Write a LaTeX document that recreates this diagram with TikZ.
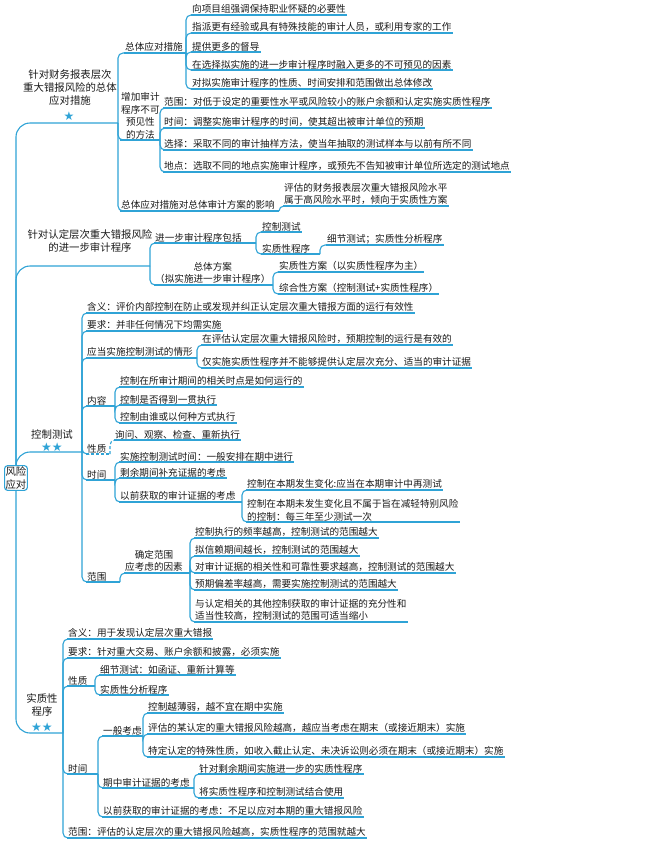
\documentclass[tikz,border=0pt]{standalone}
\usepackage{fontspec}
\setmainfont{Noto Sans CJK SC}
\newfontfamily\symfont{DejaVu Sans}
\definecolor{mapblue}{HTML}{2FA3D6}
\definecolor{inkgray}{HTML}{1A1A1A}
\newcommand\lf[4]{\node[leaf] (#1) at (#2,#3) {#4};
  \draw[ul] (#1.south west) -- (#1.south east);}

\begin{document}
\begin{tikzpicture}[x=1pt,y=-1pt,
    leaf/.style={anchor=south west,inner sep=1pt,align=left,text=inkgray,
      font=\fontsize{9.6}{12.4}\selectfont},
    head/.style={align=center,inner sep=1pt,text=inkgray,
      font=\fontsize{10.4}{13}\selectfont},
    ul/.style={draw=mapblue,line width=1.1pt},
    br/.style={draw=mapblue,line width=1.1pt,rounded corners=5pt},
    trunk/.style={draw=mapblue,line width=1.1pt,rounded corners=14pt},
    stars/.style={text=mapblue,inner sep=0pt,font=\symfont\fontsize{12}{12}\selectfont},
]
\useasboundingbox[fill=white] (0,0) rectangle (650,844);

% root
\node[draw=mapblue,line width=1.1pt,rounded corners=3pt,inner sep=1.5pt,
  head] (root) at (16,478) {风险\\应对};
\coordinate (fA) at (118,123);
\coordinate (fB) at (150,266);
\coordinate (fC) at (82,452);
\coordinate (fD) at (63,733);
\draw[trunk] (root.north) |- (fA);
\draw[trunk] (root.north) |- (fB);
\draw[trunk] (root.north) |- (fC);
\draw[trunk] (root.south) |- (fD);

%%%
% financial statement level
\node[head] (fin) at (70,88) {针对财务报表层次\\重大错报风险的总体\\应对措施};
\node[stars] (finstar) at (69,116) {★};
\node[leaf] (zt) at (124,53) {总体应对措施};
\coordinate (fZt) at (186,53);
\draw[br] (fA) |- (zt.south west);
\draw[ul] (zt.south west) -- (fZt);
\lf{zt1}{191}{15}{向项目组强调保持职业怀疑的必要性}
\lf{zt2}{191}{33}{指派更有经验或具有特殊技能的审计人员，或利用专家的工作}
\lf{zt3}{191}{52}{提供更多的督导}
\lf{zt4}{191}{70}{在选择拟实施的进一步审计程序时融入更多的不可预见的因素}
\lf{zt5}{191}{89}{对拟实施审计程序的性质、时间安排和范围做出总体修改}
\foreach \c in {zt1,zt2,zt3,zt4,zt5} \draw[br] (fZt) |- (\c.south west);

\node[leaf,align=center] (zj) at (120,140) {增加审计\\程序不可\\预见性\\的方法};
\coordinate (fZj) at (160,140);
\draw[br] (fA) |- (zj.south west);
\draw[ul] (zj.south west) -- (fZj);
\lf{zj1}{163}{108}{范围：对低于设定的重要性水平或风险较小的账户余额和认定实施实质性程序}
\lf{zj2}{163}{128}{时间：调整实施审计程序的时间，使其超出被审计单位的预期}
\lf{zj3}{163}{150}{选择：采取不同的审计抽样方法，使当年抽取的测试样本与以前有所不同}
\lf{zj4}{163}{172}{地点：选取不同的地点实施审计程序，或预先不告知被审计单位所选定的测试地点}
\foreach \c in {zj1,zj2,zj3,zj4} \draw[br] (fZj) |- (\c.south west);

\node[leaf] (yx) at (120,211) {总体应对措施对总体审计方案的影响};
\coordinate (fYx) at (279,211);
\draw[br] (fA) |- (yx.south west);
\draw[ul] (yx.south west) -- (fYx);
\lf{yx1}{283}{206}{评估的财务报表层次重大错报风险水平\\属于高风险水平时，倾向于实质性方案}
\draw[br] (fYx) |- (yx1.south west);

%%%
% assertion level
\node[head] (ass) at (90,241) {针对认定层次重大错报风险\\的进一步审计程序};
\node[leaf] (jb) at (154,243) {进一步审计程序包括};
\coordinate (fJb) at (256,243);
\draw[br] (fB) |- (jb.south west);
\draw[ul] (jb.south west) -- (fJb);
\lf{jb1}{261}{232}{控制测试}
\node[leaf] (jb2) at (261,254) {实质性程序};
\coordinate (fJb2) at (320,254);
\draw[ul] (jb2.south west) -- (fJb2);
\foreach \c in {jb1,jb2} \draw[br] (fJb) |- (\c.south west);
\lf{jb3}{326}{245}{细节测试；实质性分析程序}
\draw[br] (fJb2) |- (jb3.south west);

\node[leaf,align=center] (fa) at (154,285) {总体方案\\（拟实施进一步审计程序）};
\coordinate (fFa) at (273,285);
\draw[br] (fB) |- (fa.south west);
\draw[ul] (fa.south west) -- (fFa);
\lf{fa1}{278}{272}{实质性方案（以实质性程序为主）}
\lf{fa2}{278}{294}{综合性方案（控制测试+实质性程序）}
\foreach \c in {fa1,fa2} \draw[br] (fFa) |- (\c.south west);

%%%
% tests of controls
\node[head] (ctl) at (52,435) {控制测试};
\node[stars] (ctlstar) at (52,447) {★★};
\lf{c1}{86}{313}{含义：评价内部控制在防止或发现并纠正认定层次重大错报方面的运行有效性}
\lf{c2}{86}{331}{要求：并非任何情况下均需实施}
\node[leaf] (c3) at (86,358) {应当实施控制测试的情形};
\node[leaf] (c4) at (86,406) {内容};
\node[leaf] (c5) at (86,454) {性质};
\node[leaf] (c6) at (86,480) {时间};
\node[leaf] (c7) at (86,582) {范围};
\foreach \c in {c1,c2,c3,c4,c5,c6,c7} \draw[br] (fC) |- (\c.south west);
\coordinate (fC3) at (197,358);
\coordinate (fC4) at (115,406);
\coordinate (fC5) at (110,454);
\coordinate (fC6) at (115,480);
\coordinate (fC7) at (120,582);
\draw[ul] (c3.south west) -- (fC3);
\draw[ul] (c4.south west) -- (fC4);
\draw[ul,densely dashed] (c5.south west) -- (fC5);
\draw[ul] (c6.south west) -- (fC6);
\draw[ul] (c7.south west) -- (fC7);
\lf{c31}{201}{345}{在评估认定层次重大错报风险时，预期控制的运行是有效的}
\lf{c32}{201}{368}{仅实施实质性程序并不能够提供认定层次充分、适当的审计证据}
\foreach \c in {c31,c32} \draw[br] (fC3) |- (\c.south west);
\lf{c41}{119}{387}{控制在所审计期间的相关时点是如何运行的}
\lf{c42}{119}{405}{控制是否得到一贯执行}
\lf{c43}{119}{423}{控制由谁或以何种方式执行}
\foreach \c in {c41,c42,c43} \draw[br] (fC4) |- (\c.south west);
\lf{c51}{114}{440}{询问、观察、检查、重新执行}
\draw[br,densely dashed] (fC5) |- (c51.south west);
\lf{c61}{119}{462}{实施控制测试时间：一般安排在期中进行}
\lf{c62}{119}{478}{剩余期间补充证据的考虑}
\node[leaf] (c63) at (119,502) {以前获取的审计证据的考虑};
\coordinate (fC63) at (242,502);
\draw[ul] (c63.south west) -- (fC63);
\foreach \c in {c61,c62,c63} \draw[br] (fC6) |- (\c.south west);
\lf{c631}{246}{490}{控制在本期发生变化:应当在本期审计中再测试}
\lf{c632}{246}{522}{控制在本期未发生变化且不属于旨在减轻特别风险\\的控制：每三年至少测试一次}
\foreach \c in {c631,c632} \draw[br] (fC63) |- (\c.south west);
\node[leaf,align=center] (c71) at (124,573) {确定范围\\应考虑的因素};
\coordinate (fC71) at (190,573);
\draw[br] (fC7) |- (c71.south west);
\draw[ul] (c71.south west) -- (fC71);
\lf{r1}{194}{538}{控制执行的频率越高，控制测试的范围越大}
\lf{r2}{194}{556}{拟信赖期间越长，控制测试的范围越大}
\lf{r3}{194}{573}{对审计证据的相关性和可靠性要求越高，控制测试的范围越大}
\lf{r4}{194}{590}{预期偏差率越高，需要实施控制测试的范围越大}
\lf{r5}{194}{622}{与认定相关的其他控制获取的审计证据的充分性和\\适当性较高，控制测试的范围可适当缩小}
\foreach \c in {r1,r2,r3,r4,r5} \draw[br] (fC71) |- (\c.south west);

%%%
% substantive procedures
\node[head] (sub) at (42,705) {实质性\\程序};
\node[stars] (substar) at (42,727) {★★};
\lf{s1}{67}{639}{含义：用于发现认定层次重大错报}
\lf{s2}{67}{658}{要求：针对重大交易、账户余额和披露，必须实施}
\node[leaf] (s3) at (67,686) {性质};
\node[leaf] (s4) at (67,774) {时间};
\lf{s5}{67}{838}{范围：评估的认定层次的重大错报风险越高，实质性程序的范围就越大}
\foreach \c in {s1,s2,s3,s4,s5} \draw[br] (fD) |- (\c.south west);
\coordinate (fS3) at (95,686);
\coordinate (fS4) at (98,774);
\draw[ul] (s3.south west) -- (fS3);
\draw[ul] (s4.south west) -- (fS4);
\lf{s31}{99}{675}{细节测试：如函证、重新计算等}
\lf{s32}{99}{695}{实质性分析程序}
\foreach \c in {s31,s32} \draw[br] (fS3) |- (\c.south west);
\node[leaf] (s41) at (102,736) {一般考虑};
\node[leaf] (s42) at (102,788) {期中审计证据的考虑};
\lf{s43}{102}{817}{以前获取的审计证据的考虑：不足以应对本期的重大错报风险}
\foreach \c in {s41,s42,s43} \draw[br] (fS4) |- (\c.south west);
\coordinate (fS41) at (143,736);
\coordinate (fS42) at (194,788);
\draw[ul] (s41.south west) -- (fS41);
\draw[ul] (s42.south west) -- (fS42);
\lf{g1}{147}{713}{控制越薄弱，越不宜在期中实施}
\lf{g2}{147}{734}{评估的某认定的重大错报风险越高，越应当考虑在期末（或接近期末）实施}
\lf{g3}{147}{757}{特定认定的特殊性质，如收入截止认定、未决诉讼则必须在期末（或接近期末）实施}
\foreach \c in {g1,g2,g3} \draw[br] (fS41) |- (\c.south west);
\lf{m1}{198}{774}{针对剩余期间实施进一步的实质性程序}
\lf{m2}{198}{798}{将实质性程序和控制测试结合使用}
\foreach \c in {m1,m2} \draw[br] (fS42) |- (\c.south west);
\end{tikzpicture}
\end{document}
